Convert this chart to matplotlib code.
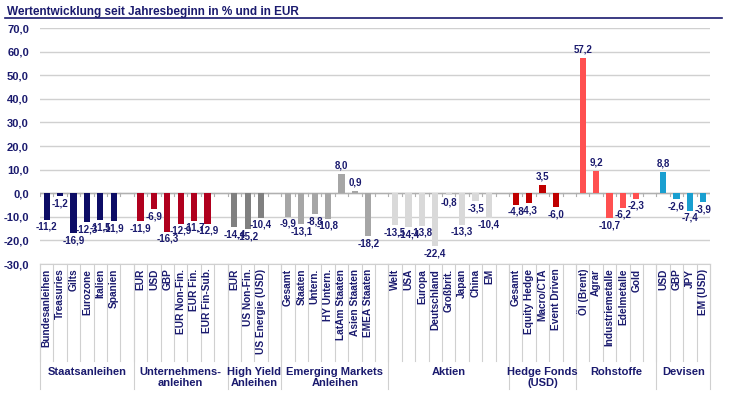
import matplotlib
matplotlib.use("Agg")
import matplotlib.pyplot as plt
from matplotlib.transforms import blended_transform_factory

plt.rcParams['font.family'] = ['Liberation Sans', 'DejaVu Sans']

NAVY = '#1a1a6e'

groups = ['Staatsanleihen', 'Unternehmens-\nanleihen', 'High Yield\nAnleihen',
          'Emerging Markets\nAnleihen', 'Aktien', 'Hedge Fonds\n(USD)',
          'Rohstoffe', 'Devisen']

labels = [
    ['Bundesanleihen', 'Treasuries', 'Gilts', 'Eurozone', 'Italien', 'Spanien'],
    ['EUR', 'USD', 'GBP', 'EUR Non-Fin.', 'EUR Fin.', 'EUR Fin-Sub.'],
    ['EUR', 'US Non-Fin.', 'US Energie (USD)'],
    ['Gesamt', 'Staaten', 'Untern.', 'HY Untern.', 'LatAm Staaten', 'Asien Staaten', 'EMEA Staaten'],
    ['Welt', 'USA', 'Europa', 'Deutschland', 'Großbrit.', 'Japan', 'China', 'EM'],
    ['Gesamt', 'Equity Hedge', 'Macro/CTA', 'Event Driven'],
    ['Öl (Brent)', 'Agrar', 'Industriemetalle', 'Edelmetalle', 'Gold'],
    ['USD', 'GBP', 'JPY', 'EM (USD)'],
]

values = [
    [-11.2, -1.2, -16.9, -12.3, -11.5, -11.9],
    [-11.9, -6.9, -16.3, -12.9, -11.7, -12.9],
    [-14.4, -15.2, -10.4],
    [-9.9, -13.1, -8.8, -10.8, 8.0, 0.9, -18.2],
    [-13.5, -14.4, -13.8, -22.4, -0.8, -13.3, -3.5, -10.4],
    [-4.8, -4.3, 3.5, -6.0],
    [57.2, 9.2, -10.7, -6.2, -2.3],
    [8.8, -2.6, -7.4, -3.9],
]

colors = ['#0d0d66', '#b0001e', '#808080', '#a6a6a6', '#d9d9d9',
          '#c00000', '#ff5050', '#1a9fd0']

fig = plt.figure(figsize=(7.29, 3.96), dpi=100)
ax = fig.add_axes([40 / 729, 132 / 396, 670 / 729, 236 / 396])

# slot layout: each group followed by one empty slot (except the last)
xs, names, starts, ends = [], [], [], []
pos = 0
for gi, (labs, vals) in enumerate(zip(labels, values)):
    starts.append(pos)
    for lab, v in zip(labs, vals):
        xs.append(pos)
        names.append(lab)
        ax.bar(pos, v, width=0.45, color=colors[gi], zorder=3)
        if v < 0:
            ax.text(pos, v - 0.9, f'{v:.1f}'.replace('.', ','), ha='center', va='top',
                    fontsize=7, fontweight='bold', color=NAVY, zorder=4)
        else:
            ax.text(pos, v + 1.5, f'{v:.1f}'.replace('.', ','), ha='center', va='bottom',
                    fontsize=7, fontweight='bold', color=NAVY, zorder=4)
        pos += 1
    if gi < len(labels) - 1:
        pos += 1
    ends.append(pos)

nslots = pos
ax.set_xlim(-0.5, nslots - 0.5)
ax.set_ylim(-30, 70)
ax.set_yticks(range(-30, 71, 10))
ax.set_yticklabels([f'{t:.1f}'.replace('.', ',') for t in range(-30, 71, 10)])
ax.grid(axis='y', color='#d0d0d0', linewidth=1.0, zorder=0)
ax.axhline(0, color='#b0b0b0', linewidth=1.0, zorder=2)
for s in range(nslots + 1):
    ax.plot([s - 0.5, s - 0.5], [0, -1.0], color='#b0b0b0', linewidth=0.8, zorder=2)
for sp in ax.spines.values():
    sp.set_visible(False)
ax.tick_params(axis='y', length=0, labelsize=8, labelcolor=NAVY, pad=8)
for t in ax.get_yticklabels():
    t.set_fontweight('bold')
ax.set_xticks([])

tr = blended_transform_factory(ax.transData, ax.transAxes)
for x, lab in zip(xs, names):
    ax.text(x, -0.02, lab, transform=tr, rotation=90, ha='center', va='top',
            fontsize=7.3, fontweight='bold', color=NAVY, clip_on=False)

# separators below the plot
for s in range(nslots + 1):
    ax.plot([s - 0.5, s - 0.5], [0, -0.41], transform=tr, color='#d0d0d0',
            linewidth=0.8, clip_on=False)
for st in starts + [nslots]:
    ax.plot([st - 0.5, st - 0.5], [0, -0.53], transform=tr, color='#d0d0d0',
            linewidth=0.8, clip_on=False)
ax.plot([-0.5, nslots - 0.5], [0, 0], transform=tr, color='#d0d0d0',
        linewidth=0.8, clip_on=False)

for gi, g in enumerate(groups):
    n = len(labels[gi])
    cx = starts[gi] + (n - 1) / 2 if gi == len(groups) - 1 else (starts[gi] + ends[gi] - 1) / 2
    ax.text(cx, -0.435, g, transform=tr, ha='center', va='top', fontsize=8,
            fontweight='bold', color=NAVY, linespacing=1.2, clip_on=False)

fig.text(7 / 729, 1 - 12 / 396, 'Wertentwicklung seit Jahresbeginn in % und in EUR',
         ha='left', va='center', fontsize=8.5, fontweight='bold', color=NAVY)
fig.add_artist(plt.Line2D([5 / 729, 722 / 729], [1 - 18 / 396, 1 - 18 / 396],
                          color=NAVY, linewidth=1.2))

fig.savefig('out.png', dpi=100)
